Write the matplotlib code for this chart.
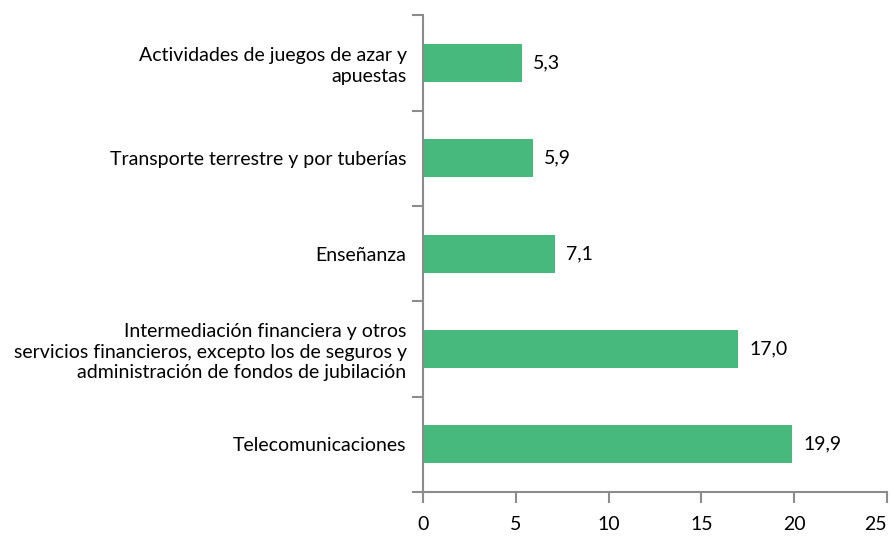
import matplotlib.pyplot as plt
import numpy as np

plt.rcParams['font.family'] = ['Lato', 'DejaVu Sans']

# datos (de abajo hacia arriba)
categorias = [
    "Telecomunicaciones",
    "Intermediación financiera y otros\nservicios financieros, excepto los de seguros y\nadministración de fondos de jubilación",
    "Enseñanza",
    "Transporte terrestre y por tuberías",
    "Actividades de juegos de azar y\napuestas",
]
valores = [19.9, 17.0, 7.1, 5.9, 5.3]
xticks = [0, 5, 10, 15, 20, 25]

color_barra = "#47B97C"
color_eje = "#8C8C8C"

fig = plt.figure(figsize=(8.93, 5.38), dpi=100)
ax = fig.add_axes([0.474, 0.0855, 0.519, 0.886])

y = np.arange(len(categorias))
barras = ax.barh(y, valores, height=0.4, color=color_barra)
ax.bar_label(barras, labels=[f"{v:.1f}".replace(".", ",") for v in valores],
             padding=8, fontsize=14)

ax.set_xlim(0, 25)
ax.set_ylim(-0.5, len(categorias) - 0.5)
ax.set_xticks(xticks)
ax.set_xticklabels([str(t) for t in xticks], fontsize=14)
# el último rótulo se corre a la izquierda para que quepa
ax.get_xticklabels()[-1].set_horizontalalignment("right")

# marcas en los límites de categoría, etiquetas en los centros
ax.set_yticks(np.arange(-0.5, len(categorias)), labels=[])
ax.set_yticks(y, minor=True)
ax.set_yticklabels(categorias, minor=True, fontsize=14, ha="right", linespacing=1.25)
ax.tick_params(axis="y", which="minor", length=0, pad=12)
ax.tick_params(axis="y", which="major", length=8, width=1.5, color=color_eje)
ax.tick_params(axis="x", length=8, width=1.5, color=color_eje, pad=9)

for s in ["top", "right"]:
    ax.spines[s].set_visible(False)
for s in ["left", "bottom"]:
    ax.spines[s].set_color(color_eje)
    ax.spines[s].set_linewidth(1.5)

fig.savefig("out.png", dpi=100)
